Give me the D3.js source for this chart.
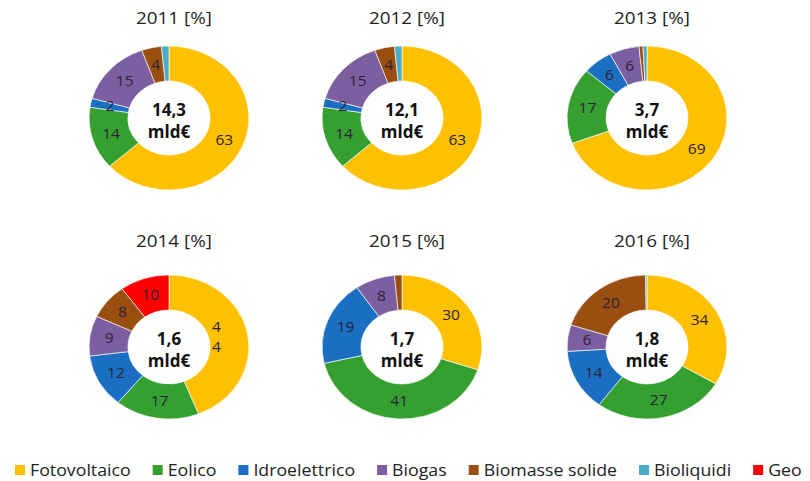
<!DOCTYPE html>
<html>
<head>
<meta charset="utf-8">
<script src="https://cdn.jsdelivr.net/npm/d3@7"></script>
<style>
body { margin: 0; background: #fff; }
text { font-family: "Open Sans", Lato, sans-serif; }
</style>
</head>
<body>
<div id="chart"></div>
<script>
var width = 810,
    height = 481;

// categories (clockwise order from 12 o'clock)
var sources = ["Fotovoltaico", "Eolico", "Idroelettrico", "Biogas", "Biomasse solide", "Bioliquidi", "Geo"];
var colors = ["#FFC000", "#35A02F", "#1B6FC2", "#7C5FA1", "#9A4E10", "#4BACC6", "#FF0000"];

var years = ["2011", "2012", "2013", "2014", "2015", "2016"];
var totals = ["14,3", "12,1", "3,7", "1,6", "1,7", "1,8"];

// share per year, same order as sources [%]
var v2011 = [63, 14, 2, 15, 4, 1.5, 0];
var v2012 = [63, 14, 2, 15, 4, 1.5, 0];
var v2013 = [69, 17, 6, 6, 0.8, 0.8, 0];
var v2014 = [44, 17, 12, 9, 8, 0, 10];
var v2015 = [30, 41, 19, 8, 1.5, 0, 0];
var v2016 = [34, 27, 14, 6, 20, 0.3, 0];
var shares = [v2011, v2012, v2013, v2014, v2015, v2016];

// label split on two lines in the original
var splitLabels = [["2014", "Fotovoltaico"]];

var color = d3.scaleOrdinal().domain(sources).range(colors);

var colX = d3.scaleOrdinal().domain([0, 1, 2]).range([169, 402, 647]);
var rowY = d3.scaleOrdinal().domain([0, 1]).range([118, 347]);
var titleY = d3.scaleOrdinal().domain([0, 1]).range([18, 241]);

var rOuter = 72,
    rInner = 37,
    sx = 1.11; // the original picture is stretched sideways

var arc = d3.arc().innerRadius(rInner).outerRadius(rOuter);
var labelArc = d3.arc().innerRadius((rInner + rOuter) / 2).outerRadius((rInner + rOuter) / 2);
var pie = d3.pie().sort(null).value(function(d) { return d.v; });

var svg = d3.select("#chart").append("svg")
    .attr("width", width)
    .attr("height", height);

years.forEach(function(year, i) {
    var cx = colX(i % 3),
        cy = rowY(Math.floor(i / 3));
    var data = sources.map(function(s, j) { return {name: s, v: shares[i][j]}; });
    var arcs = pie(data);

    var g = svg.append("g")
        .attr("transform", "translate(" + cx + "," + cy + ")");

    svg.append("text")
        .attr("transform", "translate(" + (cx + 5) + "," + titleY(Math.floor(i / 3)) + ") scale(" + sx + ",1)")
        .attr("dy", "0.35em")
        .attr("text-anchor", "middle")
        .attr("font-size", 17)
        .attr("fill", "#222")
        .text(year + " [%]");

    g.append("g")
        .attr("transform", "scale(" + sx + ",1)")
        .selectAll("path")
        .data(arcs.filter(function(d) { return d.data.v > 0; }))
        .enter().append("path")
        .attr("d", arc)
        .attr("fill", function(d) { return color(d.data.name); })
        .attr("stroke", "#fff")
        .attr("stroke-width", 0.6);

    var labels = g.selectAll(".lbl")
        .data(arcs.filter(function(d) { return d.data.v >= 2 && d.data.name !== "Bioliquidi"; }))
        .enter().append("text")
        .attr("class", "lbl")
        .attr("text-anchor", "middle")
        .attr("font-size", 14)
        .attr("fill", "#2a2438")
        .attr("transform", function(d) {
            var c = labelArc.centroid(d);
            return "translate(" + (c[0] * sx) + "," + c[1] + ") scale(" + sx + ",1)";
        });

    labels.each(function(d) {
        var t = d3.select(this);
        var split = splitLabels.some(function(s) { return s[0] === year && s[1] === d.data.name; });
        var str = String(d.data.v);
        if (split) {
            t.attr("transform", function() {
                var c = labelArc.centroid(d);
                return "translate(" + (c[0] * sx - 12) + "," + c[1] + ") scale(" + sx + ",1)";
            });
            str.split("").forEach(function(ch, k) {
                t.append("tspan").attr("x", 0).attr("y", k === 0 ? -5 : 15).text(ch);
            });
        } else {
            t.attr("dy", "0.35em").text(str);
        }
    });

    var center = g.append("text")
        .attr("text-anchor", "middle")
        .attr("font-size", 17)
        .attr("font-weight", "bold")
        .attr("fill", "#111");
    center.append("tspan").attr("x", 0).attr("y", -2).text(totals[i]);
    center.append("tspan").attr("x", 0).attr("y", 20).text("mld€");
});

// legend
var legend = svg.append("g")
    .attr("transform", "translate(15,470)");
var lx = 0;
sources.forEach(function(s) {
    var item = legend.append("g").attr("transform", "translate(" + lx + ",0)");
    item.append("rect")
        .attr("x", 0)
        .attr("y", -5)
        .attr("width", 10)
        .attr("height", 10)
        .attr("fill", color(s));
    var t = item.append("text")
        .attr("transform", "translate(15,0) scale(" + sx + ",1)")
        .attr("dy", "0.35em")
        .attr("font-size", 16)
        .attr("fill", "#222")
        .text(s);
    lx += 15 + t.node().getComputedTextLength() * sx + 22;
});
</script>
</body>
</html>
